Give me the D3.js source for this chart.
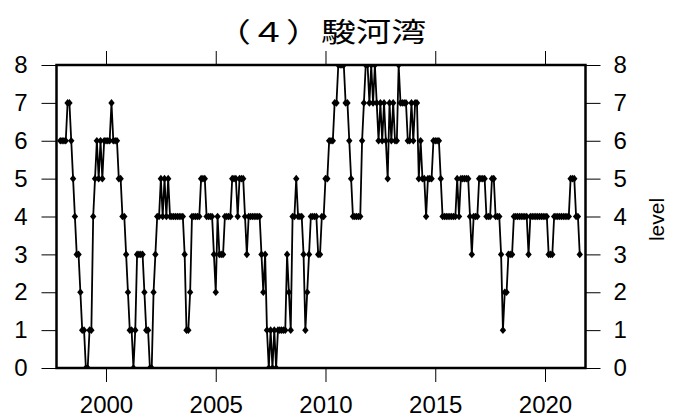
<!DOCTYPE html>
<html><head><meta charset="utf-8">
<script src="https://cdn.jsdelivr.net/npm/d3@7"></script>
<style>body{margin:0;background:#fff}svg{display:block}</style>
</head><body><svg id="c" width="674" height="419"></svg>
<script>
const title = "（４）駿河湾";
const yLabel = "level";
const startYear = 1997, startMonth = 12; // first observation: Dec 1997, monthly
const levels = [
6,6,6,6,7,7,6,5,4,3,
3,2,1,1,0,0,1,1,4,5,
6,5,6,5,6,6,6,6,7,6,
6,6,5,5,4,4,3,2,1,1,
0,1,3,3,3,3,2,1,1,0,
0,2,3,4,4,5,4,5,4,5,
4,4,4,4,4,4,4,4,3,1,
1,2,4,4,4,4,4,5,5,5,
4,4,4,4,3,2,4,3,3,3,
4,4,4,4,5,5,5,4,5,5,
5,4,3,4,4,4,4,4,4,4,
3,2,3,1,0,1,0,1,0,1,
1,1,1,1,3,2,1,4,4,5,
4,4,4,3,1,2,3,4,4,4,
4,3,3,4,4,5,5,6,6,6,
7,7,8,8,8,8,7,7,6,5,
4,4,4,4,4,6,7,8,8,7,
8,7,8,7,6,7,6,7,6,5,
7,6,7,6,6,8,7,7,7,7,
6,6,7,6,7,7,5,6,5,5,
4,5,5,5,6,6,6,6,5,4,
4,4,4,4,4,4,4,5,4,5,
5,5,5,5,4,3,4,4,4,5,
5,5,5,4,4,4,5,5,4,4,
4,3,1,2,2,3,3,3,4,4,
4,4,4,4,4,4,3,4,4,4,
4,4,4,4,4,4,4,3,3,3,
4,4,4,4,4,4,4,4,4,5,
5,5,4,4,3
];
const xTicks = [2000, 2005, 2010, 2015, 2020];
const yTicks = [0, 1, 2, 3, 4, 5, 6, 7, 8];
const xDomain = [1997.745, 2021.845];
const yDomain = [0, 8];

const dates = levels.map((_, i) => startYear + (startMonth - 1 + i) / 12);
const data = dates.map((d, i) => ({t: d, v: levels[i]}));

const L = 56.5, R = 585.5, T = 65, B = 368;
const svg = d3.select("#c");
const x = d3.scaleLinear().domain(xDomain).range([L, R]);
const y = d3.scaleLinear().domain(yDomain).range([B, T]);
const font = "'Liberation Sans', Arial, Helvetica, sans-serif";

function styleAxis(g) {
  g.select(".domain").remove();
  g.selectAll(".tick line").attr("stroke", "#000").attr("stroke-width", 1);
  g.selectAll(".tick text").attr("fill", "#000").style("font-family", font).style("font-size", "24px");
}

svg.append("g").attr("transform", `translate(0,${B})`)
  .call(d3.axisBottom(x).tickValues(xTicks).tickSize(14).tickPadding(14).tickFormat(d3.format("d")))
  .call(styleAxis);
svg.append("g").attr("transform", `translate(0,${T})`)
  .call(d3.axisTop(x).tickValues(xTicks).tickSize(14).tickFormat(""))
  .call(styleAxis);
svg.append("g").attr("transform", `translate(${L},0)`)
  .call(d3.axisLeft(y).tickValues(yTicks).tickSize(15).tickPadding(14).tickFormat(d3.format("d")))
  .call(styleAxis);
svg.append("g").attr("transform", `translate(${R},0)`)
  .call(d3.axisRight(y).tickValues(yTicks).tickSize(15).tickPadding(13).tickFormat(d3.format("d")))
  .call(styleAxis);

svg.append("clipPath").attr("id", "clip").append("rect")
  .attr("x", L).attr("y", T).attr("width", R - L).attr("height", B - T);

const plot = svg.append("g").attr("clip-path", "url(#clip)");
plot.append("path").datum(data)
  .attr("fill", "none").attr("stroke", "#000").attr("stroke-width", 1.8)
  .attr("stroke-linejoin", "round")
  .attr("d", d3.line().x(d => x(d.t)).y(d => y(d.v)));

const diamond = {draw(ctx, size) { const w = 3.2, h = 3.8; ctx.moveTo(0, -h); ctx.lineTo(w, 0); ctx.lineTo(0, h); ctx.lineTo(-w, 0); ctx.closePath(); }};
plot.selectAll("path.pt").data(data).join("path").attr("class", "pt")
  .attr("transform", d => `translate(${x(d.t)},${y(d.v)})`)
  .attr("d", d3.symbol().type(diamond)()).attr("fill", "#000");

svg.append("rect").attr("x", L).attr("y", T).attr("width", R - L).attr("height", B - T)
  .attr("fill", "none").attr("stroke", "#000").attr("stroke-width", 2.5);

svg.append("text").attr("transform", `translate(${(L + R) / 2},42) scale(1.3,1)`)
  .attr("text-anchor", "middle").style("font-family", "'Noto Sans CJK JP', 'Noto Sans CJK SC', sans-serif")
  .style("font-size", "27px").attr("fill", "#000").text(title);

svg.append("text").attr("transform", `translate(664,${(T + B) / 2 + 3}) rotate(-90)`)
  .attr("text-anchor", "middle").style("font-family", font).style("font-size", "21px")
  .attr("fill", "#000").text(yLabel);
</script></body></html>
